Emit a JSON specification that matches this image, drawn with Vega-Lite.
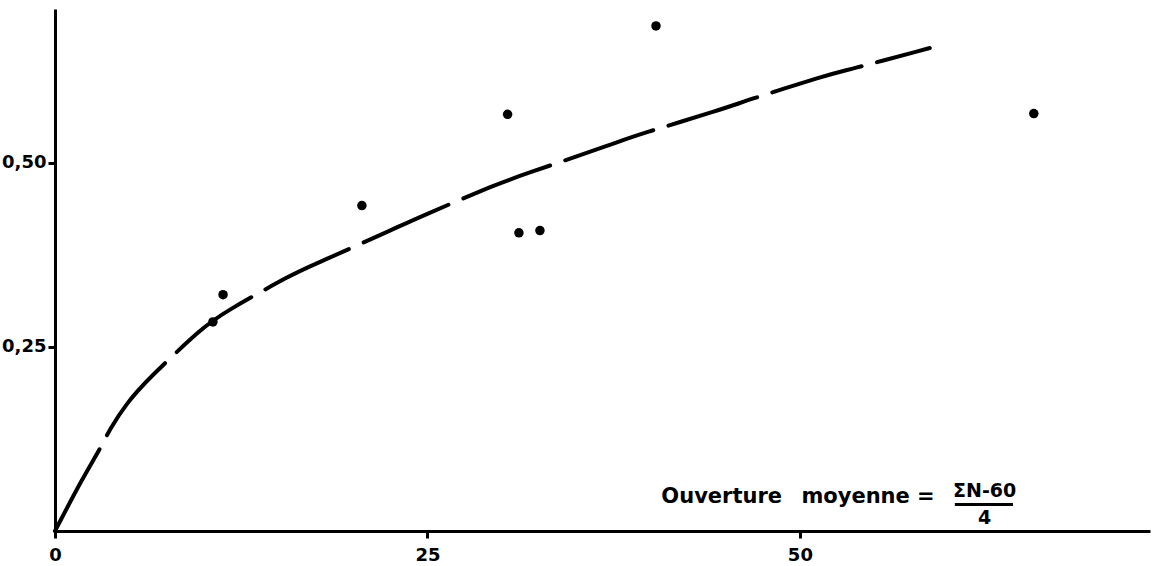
{
  "$schema": "https://vega.github.io/schema/vega-lite/v6.json",
  "width": 1095,
  "height": 522,
  "autosize": {"type": "none"},
  "padding": {"left": 55, "top": 9, "right": 6, "bottom": 35},
  "background": "white",
  "config": {
    "view": {"stroke": null},
    "axis": {
      "grid": false,
      "domainColor": "black",
      "domainWidth": 3,
      "tickColor": "black",
      "tickWidth": 3,
      "labelFont": "DejaVu Sans",
      "labelFontWeight": "bold",
      "labelFontSize": 18,
      "labelColor": "black",
      "title": null
    }
  },
  "datasets": {
    "curve": [
      {"x": 0, "y": 0},
      {"x": 1.88, "y": 0.073},
      {"x": 3.02, "y": 0.111},
      {"x": 3.69, "y": 0.139},
      {"x": 4.83, "y": 0.174},
      {"x": 6.17, "y": 0.205},
      {"x": 9.93, "y": 0.277},
      {"x": 11.28, "y": 0.296},
      {"x": 16.11, "y": 0.351},
      {"x": 17.32, "y": 0.361},
      {"x": 23.15, "y": 0.414},
      {"x": 24.3, "y": 0.425},
      {"x": 29.87, "y": 0.473},
      {"x": 31.01, "y": 0.481},
      {"x": 37.92, "y": 0.529},
      {"x": 38.93, "y": 0.537},
      {"x": 44.83, "y": 0.573},
      {"x": 46.31, "y": 0.584},
      {"x": 51.88, "y": 0.62},
      {"x": 53.02, "y": 0.625},
      {"x": 58.72, "y": 0.656}
    ],
    "points": [
      {"x": 10.6, "y": 0.284},
      {"x": 11.28, "y": 0.321},
      {"x": 20.6, "y": 0.442},
      {"x": 30.38, "y": 0.566},
      {"x": 31.14, "y": 0.405},
      {"x": 32.55, "y": 0.408},
      {"x": 40.34, "y": 0.686},
      {"x": 65.7, "y": 0.567}
    ],
    "label": [
      {"x": 40.7, "y": 0.046, "text": "Ouverture"},
      {"x": 50.1, "y": 0.046, "text": "moyenne ="}
    ],
    "frac": [
      {"x": 62.4, "y": 0.054, "text": "ΣN-60"},
      {"x": 62.4, "y": 0.017, "text": "4"}
    ],
    "bar": [
      {"x": 60.4, "x2": 64.3, "y": 0.036}
    ]
  },
  "layer": [
    {
      "data": {"name": "curve"},
      "mark": {"type": "line", "color": "black", "strokeWidth": 4, "strokeDash": [93, 16], "strokeCap": "round", "interpolate": "basis"},
      "encoding": {
        "x": {
          "field": "x", "type": "quantitative",
          "scale": {"domain": [0, 73.5], "nice": false},
          "axis": {"values": [0, 25, 50], "tickSize": 7, "labelPadding": 8, "labelFlush": false}
        },
        "y": {
          "field": "y", "type": "quantitative",
          "scale": {"domain": [0, 0.709], "nice": false},
          "axis": {"values": [0.25, 0.5], "tickSize": 7, "labelPadding": 2, "labelExpr": "replace(format(datum.value, '.2f'), '.', ',')"}
        }
      }
    },
    {
      "data": {"name": "points"},
      "mark": {"type": "circle", "color": "black", "opacity": 1, "size": 90},
      "encoding": {
        "x": {"field": "x", "type": "quantitative"},
        "y": {"field": "y", "type": "quantitative"}
      }
    },
    {
      "data": {"name": "label"},
      "mark": {"type": "text", "align": "left", "baseline": "middle", "font": "DejaVu Sans", "fontWeight": "bold", "fontSize": 21, "color": "black"},
      "encoding": {
        "x": {"field": "x", "type": "quantitative"},
        "y": {"field": "y", "type": "quantitative"},
        "text": {"field": "text"}
      }
    },
    {
      "data": {"name": "frac"},
      "mark": {"type": "text", "align": "center", "baseline": "middle", "font": "DejaVu Sans", "fontWeight": "bold", "fontSize": 19, "color": "black"},
      "encoding": {
        "x": {"field": "x", "type": "quantitative"},
        "y": {"field": "y", "type": "quantitative"},
        "text": {"field": "text"}
      }
    },
    {
      "data": {"name": "bar"},
      "mark": {"type": "rule", "color": "black", "strokeWidth": 3},
      "encoding": {
        "x": {"field": "x", "type": "quantitative"},
        "x2": {"field": "x2"},
        "y": {"field": "y", "type": "quantitative"}
      }
    }
  ]
}
